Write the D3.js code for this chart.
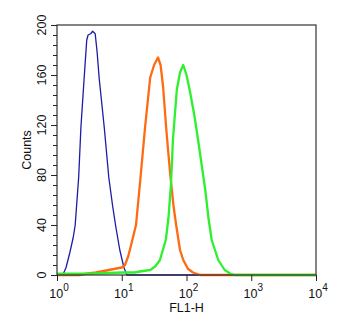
<!DOCTYPE html>
<html>

<head>
    <meta charset="UTF-8">
    <style>
        body { margin: 0; background: #fff; }
        svg text { font-family: "Liberation Sans", Arial, sans-serif; fill: #111; }
    </style>
</head>

<body>
    <svg></svg>

    <script src="https://d3js.org/d3.v7.min.js"></script>

    <script>
        let width = 350, height = 327;
        let margin = { top: 25, right: 34, bottom: 52, left: 57 };

        // FL1-H values and counts
        let blueFL = [1, 1.23, 1.38, 1.58, 1.78, 1.91, 2.16, 2.34, 2.63, 2.88, 3.02, 3.31, 3.55, 3.89, 4.17, 4.47, 4.90, 5.37, 6.31, 7.24, 8.13, 9.33, 10.8, 12.0, 10000];
        let blueCounts = [0, 0, 6, 18, 30, 40, 78, 118, 158, 188, 192, 193, 195, 193, 178, 158, 138, 118, 78, 55, 38, 20, 6, 0, 0];

        let orangeFL = [1, 2.24, 2.82, 3.98, 5.01, 6.31, 7.94, 10, 11.2, 12.6, 14.1, 16.6, 19.5, 22.9, 27.5, 31.6, 36.3, 39.8, 43.6, 49.0, 56.2, 63.1, 69.2, 79.4, 89.1, 105, 126, 162, 10000];
        let orangeCounts = [0, 0, 1, 2, 3, 4, 5, 6, 8, 15, 25, 40, 78, 118, 158, 168, 174, 168, 150, 115, 80, 55, 40, 20, 12, 5, 2, 0, 0];

        let greenFL = [1, 3.16, 10, 15.8, 20, 27.5, 33.1, 38.9, 47.9, 52.5, 57.5, 61.7, 70.8, 79.4, 89.1, 100, 112, 132, 151, 195, 219, 245, 309, 389, 479, 562, 10000];
        let greenCounts = [1, 1, 2, 2, 3, 4, 7, 12, 28, 45, 72, 108, 148, 162, 168, 160, 148, 128, 108, 68, 45, 28, 12, 4, 1, 0, 0];

        let xDecades = [1, 10, 100, 1000, 10000];
        let yTicks = [0, 40, 80, 120, 160, 200];

        let svg = d3.select("svg")
            .attr("width", width)
            .attr("height", height);

        let x = d3.scaleLog()
            .domain([1, 10000])
            .range([margin.left, width - margin.right]);

        let y = d3.scaleLinear()
            .domain([0, 200])
            .range([height - margin.bottom, margin.top]);

        let line = d3.line()
            .x(d => x(d[0]))
            .y(d => y(d[1]));

        let series = [
            { fl: blueFL, counts: blueCounts, color: "#1c1ca6", w: 1.3 },
            { fl: orangeFL, counts: orangeCounts, color: "#ff6a12", w: 2.3 },
            { fl: greenFL, counts: greenCounts, color: "#2ef02e", w: 2.3 }
        ];

        svg.append("g")
            .selectAll("path")
            .data(series)
            .enter()
            .append("path")
            .attr("fill", "none")
            .attr("stroke", d => d.color)
            .attr("stroke-width", d => d.w)
            .attr("stroke-linejoin", "round")
            .attr("d", d => line(d.fl.map((v, i) => [v, d.counts[i]])));

        // frame
        svg.append("rect")
            .attr("x", x(1))
            .attr("y", y(200))
            .attr("width", x(10000) - x(1))
            .attr("height", y(0) - y(200))
            .attr("fill", "none")
            .attr("stroke", "#333")
            .attr("stroke-width", 1.2);

        // x axis: log ticks, major ones labelled 10^n
        let xAxis = svg.append("g")
            .attr("transform", "translate(0," + y(0) + ")")
            .call(d3.axisBottom(x).ticks(4).tickSize(4).tickFormat(""));
        xAxis.select(".domain").remove();
        xAxis.selectAll(".tick line").attr("stroke", "#222")
            .attr("y2", d => xDecades.includes(d) ? 6 : 4);

        let xLab = svg.append("g")
            .selectAll("text")
            .data(xDecades)
            .enter()
            .append("text")
            .attr("x", d => x(d) + 2)
            .attr("y", y(0) + 23)
            .attr("text-anchor", "middle")
            .style("font-size", "12.5px");
        xLab.append("tspan").text("10");
        xLab.append("tspan")
            .attr("dy", -7)
            .style("font-size", "10px")
            .text(d => Math.round(Math.log10(d)));

        // y axis
        let yAxis = svg.append("g")
            .attr("transform", "translate(" + x(1) + ",0)")
            .call(d3.axisLeft(y).tickValues(d3.range(0, 201, 8).concat(yTicks)).tickSize(4).tickFormat(""));
        yAxis.select(".domain").remove();
        yAxis.selectAll(".tick line").attr("stroke", "#222")
            .attr("x2", d => yTicks.includes(d) ? -6 : -4);

        svg.append("g")
            .selectAll("text")
            .data(yTicks)
            .enter()
            .append("text")
            .attr("transform", d => "translate(" + (x(1) - 11) + "," + y(d) + ") rotate(-90)")
            .attr("text-anchor", "middle")
            .style("font-size", "12.5px")
            .text(d => d);

        svg.append("text")
            .attr("transform", "translate(31," + y(100) + ") rotate(-90)")
            .attr("text-anchor", "middle")
            .style("font-size", "12.5px")
            .text("Counts");

        svg.append("text")
            .attr("x", (x(1) + x(10000)) / 2)
            .attr("y", y(0) + 37)
            .attr("text-anchor", "middle")
            .style("font-size", "12.5px")
            .text("FL1-H");
    </script>

</body>

</html>
